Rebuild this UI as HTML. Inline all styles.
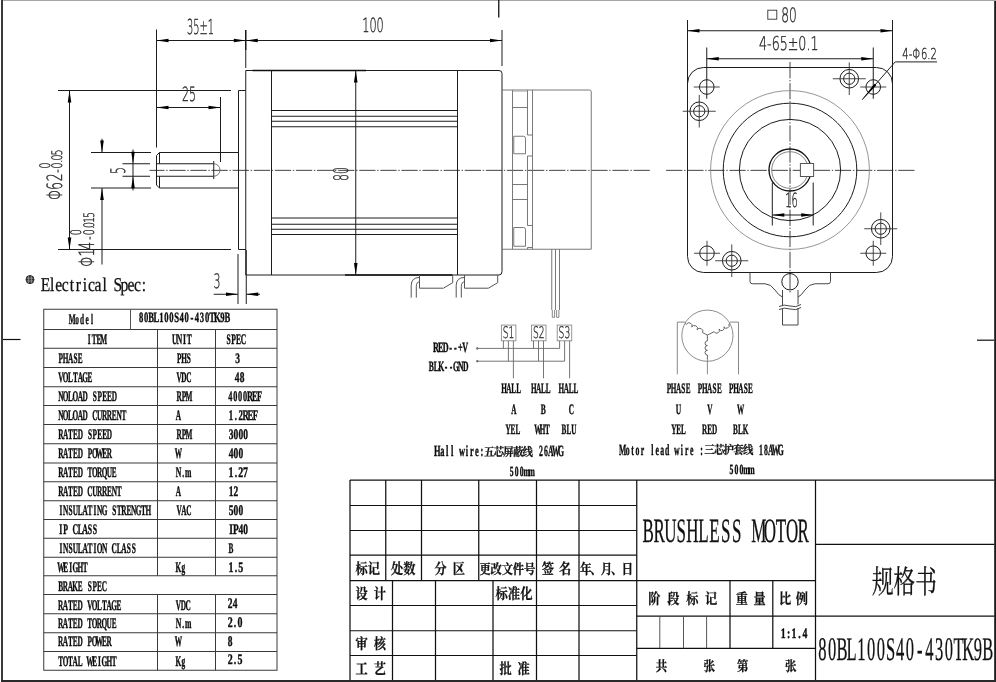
<!DOCTYPE html>
<html lang="zh"><head><meta charset="utf-8"><title>80BL100S40-430TK9B</title>
<style>
html,body{margin:0;padding:0;background:#fff;}
body{width:996px;height:682px;overflow:hidden;}
svg{display:block;filter:grayscale(1);}
text{text-rendering:geometricPrecision;}
.t{font-family:"Liberation Serif","Noto Serif CJK SC",serif;font-weight:bold;fill:#0c0c0c;stroke:#0c0c0c;stroke-width:0.4px;}
.s{font-family:"Liberation Serif","Noto Serif CJK SC",serif;fill:#111;stroke:#111;stroke-width:0.3px;}
.d{font-family:"DejaVu Sans","Liberation Sans",sans-serif;font-weight:200;fill:#2a2a2a;stroke:#2a2a2a;stroke-width:0.4px;}
.k{font-family:"Liberation Serif","Noto Serif CJK SC",serif;font-weight:bold;fill:#111;stroke:#111;stroke-width:0.22px;}
</style></head><body>
<svg width="996" height="682" viewBox="0 0 996 682">
<rect x="0" y="0" width="996" height="682" fill="#fff"/>
<rect x="3" y="0" width="993" height="1" fill="#a6a6a6"/>
<rect x="1" y="0" width="2" height="682" fill="#3a3a3a"/>
<rect x="994.2" y="1" width="1.8" height="681" fill="#1a1a1a"/>
<rect x="1" y="680" width="995" height="2" fill="#2a2a2a"/>
<line x1="498.75" y1="0" x2="498.75" y2="17.5" stroke="#111" stroke-width="1.3" />
<line x1="3" y1="339.5" x2="20.5" y2="339.5" stroke="#111" stroke-width="1.2" />
<line x1="977" y1="340.2" x2="994" y2="340.2" stroke="#111" stroke-width="1.2" />
<line x1="149.5" y1="170.35" x2="650.1" y2="170.35" stroke="#444" stroke-width="1" stroke-dasharray="16.3 1.7 1.4 1.7" stroke-dashoffset="1.3"/>
<path d="M238.5,152.5 L159.5,152.5 L156.5,155.5 L156.5,185 L159.5,188 L238.5,188" stroke="#1c1c1c" stroke-width="1" fill="none" />
<line x1="159.5" y1="152.5" x2="159.5" y2="163.75" stroke="#1c1c1c" stroke-width="1" />
<line x1="159.5" y1="176.25" x2="159.5" y2="188" stroke="#1c1c1c" stroke-width="1" />
<line x1="156.5" y1="163.75" x2="213.75" y2="163.75" stroke="#1c1c1c" stroke-width="1" />
<line x1="156.5" y1="176.25" x2="213.75" y2="176.25" stroke="#1c1c1c" stroke-width="1" />
<line x1="213.75" y1="161" x2="213.75" y2="179" stroke="#1c1c1c" stroke-width="1" />
<path d="M213.75,163.75 A6.25,6.25 0 0 1 213.75,176.25" stroke="#666" stroke-width="0.9" fill="none" />
<path d="M245.75,90.5 L238.5,90.5 L238.5,249.5 L245.75,249.5" stroke="#1c1c1c" stroke-width="1" fill="none" />
<path d="M245.75,70.5 L499,70.5 Q502,70.5 502,73.5 L502,271.5 Q502,275 499,275 L245.75,275 Z" stroke="#1c1c1c" stroke-width="1" fill="none" />
<line x1="252.5" y1="70.5" x2="366" y2="70.5" stroke="#111" stroke-width="1.6" />
<line x1="345" y1="275" x2="452.5" y2="275" stroke="#111" stroke-width="1.6" />
<line x1="271.5" y1="70.5" x2="271.5" y2="275" stroke="#1c1c1c" stroke-width="1" />
<line x1="457.5" y1="70.5" x2="457.5" y2="275" stroke="#1c1c1c" stroke-width="1" />
<line x1="271.5" y1="110.5" x2="457.5" y2="110.5" stroke="#1c1c1c" stroke-width="1" />
<line x1="271.5" y1="116.25" x2="457.5" y2="116.25" stroke="#1c1c1c" stroke-width="1" />
<line x1="271.5" y1="121.25" x2="457.5" y2="121.25" stroke="#1c1c1c" stroke-width="1" />
<line x1="271.5" y1="126.75" x2="457.5" y2="126.75" stroke="#1c1c1c" stroke-width="1" />
<line x1="271.5" y1="218" x2="457.5" y2="218" stroke="#1c1c1c" stroke-width="1" />
<line x1="271.5" y1="224.25" x2="457.5" y2="224.25" stroke="#1c1c1c" stroke-width="1" />
<line x1="271.5" y1="229.25" x2="457.5" y2="229.25" stroke="#1c1c1c" stroke-width="1" />
<line x1="271.5" y1="234.5" x2="457.5" y2="234.5" stroke="#1c1c1c" stroke-width="1" />
<path d="M502,90 L589.5,90 Q591.25,90 591.25,91.75 L591.25,249.25 L502,249.25" stroke="#6a6a6a" stroke-width="0.9" fill="none" />
<line x1="512.5" y1="90" x2="512.5" y2="249.25" stroke="#6a6a6a" stroke-width="0.9" />
<line x1="532.5" y1="90" x2="532.5" y2="249.25" stroke="#6a6a6a" stroke-width="0.9" />
<path d="M527.5,90 L527.5,135 L532.5,135" stroke="#6a6a6a" stroke-width="0.9" fill="none" />
<path d="M532.5,156 L527.5,156 L527.5,225.5 L532.5,225.5" stroke="#6a6a6a" stroke-width="0.9" fill="none" />
<path d="M527.5,249.25 L527.5,247.5 L532.5,247.5" stroke="#6a6a6a" stroke-width="0.9" fill="none" />
<line x1="512.5" y1="91.2" x2="527.5" y2="91.2" stroke="#aaa" stroke-width="0.8" />
<line x1="512.5" y1="107.5" x2="527.5" y2="107.5" stroke="#6a6a6a" stroke-width="0.9" />
<line x1="512.5" y1="184.5" x2="527.5" y2="184.5" stroke="#6a6a6a" stroke-width="0.9" />
<line x1="512.5" y1="199.5" x2="527.5" y2="199.5" stroke="#6a6a6a" stroke-width="0.9" />
<path d="M513.75,136.25 L523.5,136.25 Q525.5,136.25 525.5,138.25 L525.5,153.75 L513.75,153.75 Z" stroke="#6a6a6a" stroke-width="0.9" fill="none" />
<path d="M513.75,227.5 L523.5,227.5 Q525.5,227.5 525.5,229.5 L525.5,246.25 L513.75,246.25 Z" stroke="#6a6a6a" stroke-width="0.9" fill="none" />
<line x1="551.75" y1="249.25" x2="551.75" y2="310" stroke="#6a6a6a" stroke-width="0.9" />
<line x1="555.5" y1="249.25" x2="555.5" y2="310" stroke="#6a6a6a" stroke-width="0.9" />
<line x1="559.5" y1="249.25" x2="559.5" y2="310" stroke="#6a6a6a" stroke-width="0.9" />
<path d="M552.3,310 L552.3,317.3 L554.6,317.3 L554.6,310" stroke="#6a6a6a" stroke-width="0.8" fill="none" />
<path d="M556.6,310 L556.6,317.3 L558.9,317.3 L558.9,310" stroke="#6a6a6a" stroke-width="0.8" fill="none" />
<path d="M419.5,275 L419.5,288.2 L443.4,288.2 L452.7,282.7 L452.7,275" stroke="#555" stroke-width="1" fill="none" />
<path d="M419.5,277.4 Q411.2,277.6 411.2,285.5 L411.2,297.6" stroke="#555" stroke-width="1" fill="none" />
<path d="M419.5,281.8 Q416.3,282 416.3,286.5 L416.3,297.6" stroke="#555" stroke-width="1" fill="none" />
<path d="M464.5,275 L464.5,288.2 L488.4,288.2 L497.7,282.7 L497.7,275" stroke="#555" stroke-width="1" fill="none" />
<path d="M464.5,277.4 Q456.2,277.6 456.2,285.5 L456.2,297.6" stroke="#555" stroke-width="1" fill="none" />
<path d="M464.5,281.8 Q461.3,282 461.3,286.5 L461.3,297.6" stroke="#555" stroke-width="1" fill="none" />
<line x1="156.5" y1="29.5" x2="156.5" y2="147.5" stroke="#1c1c1c" stroke-width="1" />
<line x1="245.75" y1="30" x2="245.75" y2="68" stroke="#1c1c1c" stroke-width="1" />
<line x1="245.75" y1="30" x2="245.75" y2="50" stroke="#111" stroke-width="1.2" />
<line x1="156.5" y1="40.5" x2="502" y2="40.5" stroke="#1c1c1c" stroke-width="1" />
<polygon points="156.50,40.50 168.50,38.70 168.50,42.30" fill="#000"/>
<polygon points="245.75,40.50 233.75,42.30 233.75,38.70" fill="#000"/>
<polygon points="245.75,40.50 257.75,38.70 257.75,42.30" fill="#000"/>
<polygon points="502.00,40.50 490.00,42.30 490.00,38.70" fill="#000"/>
<line x1="502" y1="30" x2="502" y2="66" stroke="#1c1c1c" stroke-width="1" />
<text class="d" x="200.5" y="34" font-size="20.5" text-anchor="middle" textLength="27.00" lengthAdjust="spacingAndGlyphs" >35±1</text>
<text class="d" x="373" y="32" font-size="19.5" text-anchor="middle" textLength="21.50" lengthAdjust="spacingAndGlyphs" >100</text>
<line x1="220.5" y1="97" x2="220.5" y2="162" stroke="#1c1c1c" stroke-width="1" />
<line x1="156.5" y1="107.5" x2="220.5" y2="107.5" stroke="#1c1c1c" stroke-width="1" />
<polygon points="156.50,107.50 168.50,105.70 168.50,109.30" fill="#000"/>
<polygon points="220.50,107.50 208.50,109.30 208.50,105.70" fill="#000"/>
<text class="d" x="189" y="101" font-size="19.5" text-anchor="middle" textLength="14.00" lengthAdjust="spacingAndGlyphs" >25</text>
<line x1="58" y1="90.5" x2="231" y2="90.5" stroke="#1c1c1c" stroke-width="1" />
<line x1="58" y1="249.5" x2="231" y2="249.5" stroke="#1c1c1c" stroke-width="1" />
<line x1="69.5" y1="90.5" x2="69.5" y2="249.5" stroke="#1c1c1c" stroke-width="1" />
<polygon points="69.50,90.50 71.30,102.50 67.70,102.50" fill="#000"/>
<polygon points="69.50,249.50 67.70,237.50 71.30,237.50" fill="#000"/>
<text class="d" transform="translate(62.4,0) rotate(-90) scale(0.6,1)" x="-324.33 -309.83 -295.50" y="0" font-size="21" text-anchor="middle">Φ62</text>
<text class="d" transform="translate(62.4,0) rotate(-90) scale(0.66,1)" x="-259.09 -250.61 -244.39 -238.64 -230.91" y="0" font-size="14.4" text-anchor="middle">-0.05</text>
<text class="d" transform="translate(50.2,0) rotate(-90) scale(0.66,1)" x="-250.61" y="0" font-size="14.4" text-anchor="middle">0</text>
<line x1="91" y1="152.5" x2="151" y2="152.5" stroke="#1c1c1c" stroke-width="1" />
<line x1="91" y1="188" x2="151" y2="188" stroke="#1c1c1c" stroke-width="1" />
<line x1="102" y1="138.75" x2="102" y2="152.5" stroke="#1c1c1c" stroke-width="1" />
<line x1="102" y1="188" x2="102" y2="264.5" stroke="#1c1c1c" stroke-width="1" />
<polygon points="102.00,152.50 100.20,140.50 103.80,140.50" fill="#000"/>
<polygon points="102.00,188.00 103.80,200.00 100.20,200.00" fill="#000"/>
<text class="d" transform="translate(93.7,0) rotate(-90) scale(0.6,1)" x="-435.67 -420.83 -409.50" y="0" font-size="21" text-anchor="middle">Φ14</text>
<text class="d" transform="translate(93.7,0) rotate(-90) scale(0.66,1)" x="-360.61 -351.97 -345.15 -340.76 -333.33 -325.61" y="0" font-size="14.4" text-anchor="middle">-0.015</text>
<text class="d" transform="translate(81.2,0) rotate(-90) scale(0.66,1)" x="-351.97" y="0" font-size="14.4" text-anchor="middle">0</text>
<line x1="122.5" y1="163.75" x2="150" y2="163.75" stroke="#1c1c1c" stroke-width="1" />
<line x1="122.5" y1="176.25" x2="150" y2="176.25" stroke="#1c1c1c" stroke-width="1" />
<line x1="133" y1="149.5" x2="133" y2="190.5" stroke="#1c1c1c" stroke-width="1" />
<polygon points="133.00,163.75 131.20,151.75 134.80,151.75" fill="#000"/>
<polygon points="133.00,176.25 134.80,188.25 131.20,188.25" fill="#000"/>
<text class="d" x="0" y="0" font-size="20" text-anchor="start" textLength="7.00" lengthAdjust="spacingAndGlyphs" transform="translate(125,174) rotate(-90)" >5</text>
<line x1="238" y1="254" x2="238" y2="304" stroke="#1c1c1c" stroke-width="1" />
<line x1="246.25" y1="250" x2="246.25" y2="304" stroke="#1c1c1c" stroke-width="1" />
<line x1="213.75" y1="294.25" x2="238" y2="294.25" stroke="#1c1c1c" stroke-width="1" />
<line x1="246.25" y1="294.25" x2="260" y2="294.25" stroke="#1c1c1c" stroke-width="1" />
<polygon points="238.00,294.25 226.00,296.05 226.00,292.45" fill="#000"/>
<polygon points="246.25,294.25 258.25,292.45 258.25,296.05" fill="#000"/>
<text class="d" x="213.5" y="287.5" font-size="20" text-anchor="start" textLength="7.00" lengthAdjust="spacingAndGlyphs" >3</text>
<line x1="355.75" y1="70.5" x2="355.75" y2="275" stroke="#1c1c1c" stroke-width="1" />
<polygon points="355.75,70.50 357.55,82.50 353.95,82.50" fill="#000"/>
<polygon points="355.75,275.00 353.95,263.00 357.55,263.00" fill="#000"/>
<text class="d" x="0" y="0" font-size="20" text-anchor="start" textLength="14.00" lengthAdjust="spacingAndGlyphs" transform="translate(347.5,181) rotate(-90)" >80</text>
<line x1="666.1" y1="170.35" x2="916" y2="170.35" stroke="#444" stroke-width="1" stroke-dasharray="16.3 1.7 1.4 1.7"/>
<line x1="790" y1="62" x2="790" y2="292.5" stroke="#444" stroke-width="1" stroke-dasharray="16.3 1.7 1.4 1.7"/>
<rect x="687.5" y="67.5" width="205" height="205" rx="16" stroke="#1c1c1c" stroke-width="1" fill="none"/>
<circle cx="790" cy="170" r="79.4" stroke="#8a8a8a" stroke-width="0.9" fill="none"/>
<circle cx="790" cy="170" r="66.8" stroke="#1c1c1c" stroke-width="1" fill="none"/>
<circle cx="790" cy="170" r="50.6" stroke="#1c1c1c" stroke-width="1" fill="none"/>
<circle cx="790" cy="170" r="21" stroke="#111" stroke-width="1.3" fill="none"/>
<circle cx="790" cy="170" r="18.3" stroke="#777" stroke-width="0.9" fill="none"/>
<rect x="800.4" y="163.5" width="13.2" height="13" rx="0" stroke="#555" stroke-width="1" fill="#fff"/>
<circle cx="706.75" cy="87" r="7.3" stroke="#1c1c1c" stroke-width="1" fill="none"/>
<line x1="693.75" y1="87" x2="719.75" y2="87" stroke="#333" stroke-width="0.9" />
<circle cx="873.25" cy="87" r="7.3" stroke="#1c1c1c" stroke-width="1" fill="none"/>
<line x1="860.25" y1="87" x2="886.25" y2="87" stroke="#333" stroke-width="0.9" />
<circle cx="707" cy="253.25" r="7.3" stroke="#1c1c1c" stroke-width="1" fill="none"/>
<line x1="694" y1="253.25" x2="720" y2="253.25" stroke="#333" stroke-width="0.9" />
<line x1="707" y1="240.75" x2="707" y2="265.75" stroke="#333" stroke-width="0.9" />
<circle cx="873.25" cy="253.25" r="7.3" stroke="#1c1c1c" stroke-width="1" fill="none"/>
<line x1="860.25" y1="253.25" x2="886.25" y2="253.25" stroke="#333" stroke-width="0.9" />
<line x1="873.25" y1="240.75" x2="873.25" y2="265.75" stroke="#333" stroke-width="0.9" />
<circle cx="699.25" cy="111.25" r="9.3" stroke="#1c1c1c" stroke-width="1" fill="none"/>
<circle cx="699.25" cy="111.25" r="5.6" stroke="#1c1c1c" stroke-width="1" fill="none"/>
<line x1="682.75" y1="111.25" x2="715.75" y2="111.25" stroke="#333" stroke-width="0.9" />
<line x1="699.25" y1="94.95" x2="699.25" y2="127.55" stroke="#333" stroke-width="0.9" />
<circle cx="849.25" cy="78.75" r="9.3" stroke="#1c1c1c" stroke-width="1" fill="none"/>
<circle cx="849.25" cy="78.75" r="5.6" stroke="#1c1c1c" stroke-width="1" fill="none"/>
<line x1="832.75" y1="78.75" x2="865.75" y2="78.75" stroke="#333" stroke-width="0.9" />
<line x1="849.25" y1="62.45" x2="849.25" y2="95.05" stroke="#333" stroke-width="0.9" />
<circle cx="731.75" cy="260.75" r="9.3" stroke="#1c1c1c" stroke-width="1" fill="none"/>
<circle cx="731.75" cy="260.75" r="5.6" stroke="#1c1c1c" stroke-width="1" fill="none"/>
<line x1="715.25" y1="260.75" x2="748.25" y2="260.75" stroke="#333" stroke-width="0.9" />
<line x1="731.75" y1="244.45" x2="731.75" y2="277.05" stroke="#333" stroke-width="0.9" />
<circle cx="880.75" cy="228.75" r="9.3" stroke="#1c1c1c" stroke-width="1" fill="none"/>
<circle cx="880.75" cy="228.75" r="5.6" stroke="#1c1c1c" stroke-width="1" fill="none"/>
<line x1="864.25" y1="228.75" x2="897.25" y2="228.75" stroke="#333" stroke-width="0.9" />
<line x1="880.75" y1="212.45" x2="880.75" y2="245.05" stroke="#333" stroke-width="0.9" />
<path d="M750,272.5 L750,281.5 Q750,283.75 752.5,283.75 L765,283.75 Q771,284 775,290 Q779,296 782.5,297" stroke="#333" stroke-width="0.9" fill="none" />
<path d="M830.5,272.5 L830.5,281.5 Q830.5,283.75 828,283.75 L815,283.75 Q809,284 805,290 Q801,296 798,297" stroke="#333" stroke-width="0.9" fill="none" />
<circle cx="790" cy="281.75" r="8.2" stroke="#1c1c1c" stroke-width="1" fill="none"/>
<line x1="782.5" y1="290" x2="782.5" y2="305.5" stroke="#333" stroke-width="0.9" />
<line x1="798" y1="290" x2="798" y2="304.5" stroke="#333" stroke-width="0.9" />
<line x1="782.5" y1="309" x2="782.5" y2="325" stroke="#333" stroke-width="0.9" />
<line x1="798" y1="308" x2="798" y2="325" stroke="#333" stroke-width="0.9" />
<line x1="782.5" y1="325" x2="798" y2="325" stroke="#333" stroke-width="0.9" />
<path d="M779,306.5 Q784,304 790,306 T801,304.5" stroke="#333" stroke-width="0.9" fill="none" />
<path d="M779,309.5 Q784,307 790,309 T801,307.5" stroke="#333" stroke-width="0.9" fill="none" />
<line x1="687.5" y1="20" x2="687.5" y2="85" stroke="#1c1c1c" stroke-width="1" />
<line x1="892.5" y1="20" x2="892.5" y2="85" stroke="#1c1c1c" stroke-width="1" />
<line x1="687.5" y1="30.75" x2="892.5" y2="30.75" stroke="#1c1c1c" stroke-width="1" />
<polygon points="687.50,30.75 699.50,28.95 699.50,32.55" fill="#000"/>
<polygon points="892.50,30.75 880.50,32.55 880.50,28.95" fill="#000"/>
<rect x="767.8" y="10.2" width="9" height="9" rx="0" stroke="#333" stroke-width="0.9" fill="none"/>
<text class="d" x="781.3" y="22" font-size="20" text-anchor="start" textLength="15.50" lengthAdjust="spacingAndGlyphs" >80</text>
<line x1="706.75" y1="47.5" x2="706.75" y2="98.75" stroke="#1c1c1c" stroke-width="1" />
<line x1="873.25" y1="47.5" x2="873.25" y2="98.75" stroke="#1c1c1c" stroke-width="1" />
<line x1="706.75" y1="58.75" x2="873.25" y2="58.75" stroke="#1c1c1c" stroke-width="1" />
<polygon points="706.75,58.75 718.75,56.95 718.75,60.55" fill="#000"/>
<polygon points="873.25,58.75 861.25,60.55 861.25,56.95" fill="#000"/>
<text class="d" x="759" y="50" font-size="19" text-anchor="start" textLength="59.50" lengthAdjust="spacingAndGlyphs" >4-65±0.1</text>
<line x1="862.1" y1="99.8" x2="895.2" y2="61.9" stroke="#222" stroke-width="1" />
<line x1="895.2" y1="61.9" x2="937" y2="61.9" stroke="#222" stroke-width="1" />
<polygon points="862.10,99.80 874.24,83.85 876.27,85.62" fill="#000"/>
<text class="d" x="902.3" y="59.4" font-size="15" text-anchor="start" textLength="34.50" lengthAdjust="spacingAndGlyphs" >4-Φ6.2</text>
<line x1="772.3" y1="182.5" x2="772.3" y2="225.5" stroke="#1c1c1c" stroke-width="1" />
<line x1="813.2" y1="182.5" x2="813.2" y2="225.5" stroke="#1c1c1c" stroke-width="1" />
<line x1="772.3" y1="215" x2="813.2" y2="215" stroke="#1c1c1c" stroke-width="1" />
<polygon points="772.30,215.00 784.30,213.20 784.30,216.80" fill="#000"/>
<polygon points="813.20,215.00 801.20,216.80 801.20,213.20" fill="#000"/>
<text class="d" x="785.3" y="207" font-size="19.5" text-anchor="start" textLength="12.50" lengthAdjust="spacingAndGlyphs" >16</text>
<circle cx="30" cy="279.6" r="4" stroke="#222" stroke-width="1" fill="#333"/>
<line x1="26.5" y1="278.2" x2="33.5" y2="278.2" stroke="#bbb" stroke-width="0.6" />
<line x1="26.5" y1="281" x2="33.5" y2="281" stroke="#bbb" stroke-width="0.6" />
<line x1="28.6" y1="276" x2="28.6" y2="283.2" stroke="#bbb" stroke-width="0.6" />
<line x1="31.4" y1="276" x2="31.4" y2="283.2" stroke="#bbb" stroke-width="0.6" />
<text class="s" transform="scale(0.8,1)" x="56.97 65.17 73.37 81.57 89.77 97.97 106.17 114.38 122.58 130.77 138.97 147.17 155.38 163.57 171.77 179.97" y="291.2" font-size="19.5" text-anchor="middle" >Electrical Spec:</text>
<rect x="43.75" y="309.25" width="233.25" height="361" rx="0" stroke="#3a3a3a" stroke-width="1" fill="none"/>
<line x1="43.75" y1="329.5" x2="277" y2="329.5" stroke="#3a3a3a" stroke-width="1" />
<line x1="43.75" y1="348.25" x2="277" y2="348.25" stroke="#3a3a3a" stroke-width="1" />
<line x1="43.75" y1="367.5" x2="277" y2="367.5" stroke="#3a3a3a" stroke-width="1" />
<line x1="43.75" y1="386.75" x2="277" y2="386.75" stroke="#3a3a3a" stroke-width="1" />
<line x1="43.75" y1="405.5" x2="277" y2="405.5" stroke="#3a3a3a" stroke-width="1" />
<line x1="43.75" y1="424.5" x2="277" y2="424.5" stroke="#3a3a3a" stroke-width="1" />
<line x1="43.75" y1="443.75" x2="277" y2="443.75" stroke="#3a3a3a" stroke-width="1" />
<line x1="43.75" y1="463" x2="277" y2="463" stroke="#3a3a3a" stroke-width="1" />
<line x1="43.75" y1="481.75" x2="277" y2="481.75" stroke="#3a3a3a" stroke-width="1" />
<line x1="43.75" y1="500.75" x2="277" y2="500.75" stroke="#3a3a3a" stroke-width="1" />
<line x1="43.75" y1="519.5" x2="277" y2="519.5" stroke="#3a3a3a" stroke-width="1" />
<line x1="43.75" y1="538.25" x2="277" y2="538.25" stroke="#3a3a3a" stroke-width="1" />
<line x1="43.75" y1="557.25" x2="277" y2="557.25" stroke="#3a3a3a" stroke-width="1" />
<line x1="43.75" y1="575.75" x2="277" y2="575.75" stroke="#3a3a3a" stroke-width="1" />
<line x1="43.75" y1="594.5" x2="277" y2="594.5" stroke="#3a3a3a" stroke-width="1" />
<line x1="43.75" y1="613.75" x2="277" y2="613.75" stroke="#3a3a3a" stroke-width="1" />
<line x1="43.75" y1="632.75" x2="277" y2="632.75" stroke="#3a3a3a" stroke-width="1" />
<line x1="43.75" y1="651.5" x2="277" y2="651.5" stroke="#3a3a3a" stroke-width="1" />
<line x1="130.5" y1="309.25" x2="130.5" y2="329.5" stroke="#555" stroke-width="1" />
<line x1="157.5" y1="329.5" x2="157.5" y2="575.75" stroke="#3a3a3a" stroke-width="1" />
<line x1="157.5" y1="594.5" x2="157.5" y2="670.25" stroke="#3a3a3a" stroke-width="1" />
<line x1="215.5" y1="329.5" x2="215.5" y2="575.75" stroke="#3a3a3a" stroke-width="1" />
<line x1="215.5" y1="594.5" x2="215.5" y2="670.25" stroke="#3a3a3a" stroke-width="1" />
<text class="t" transform="scale(0.5,1)" x="144.35 154.25 164.15 174.05 183.95" y="323.7" font-size="14.6" text-anchor="middle" >Model</text>
<text class="t" transform="scale(0.607,1)" x="232.36 240.72 249.09 257.46 265.83 274.20 282.57 290.94 299.31 307.68 316.05 324.42 332.78 341.15 349.52 357.89 366.26 374.63" y="322" font-size="14.2" text-anchor="middle" >80BL100S40-430TK9B</text>
<text class="t" transform="scale(0.5,1)" x="178.46 188.18 197.90 207.62" y="343.7" font-size="14.6" text-anchor="middle" >ITEM</text>
<text class="t" transform="scale(0.517,1)" x="337.97 347.37 356.77 366.17" y="343.7" font-size="14.6" text-anchor="middle" >UNIT</text>
<text class="t" transform="scale(0.52,1)" x="439.42 449.04 458.65 468.27" y="343.7" font-size="14.6" text-anchor="middle" >SPEC</text>
<text class="t" transform="scale(0.5,1)" x="121.66 131.38 141.10 150.82 160.54" y="363" font-size="14.6" text-anchor="middle" >PHASE</text>
<text class="t" transform="scale(0.5,1)" x="358.26 367.98 377.70" y="363" font-size="14.6" text-anchor="middle" >PHS</text>
<text class="t" transform="scale(0.646,1)" x="367.85" y="363" font-size="14.6" text-anchor="middle" >3</text>
<text class="t" transform="scale(0.5,1)" x="121.66 131.38 141.10 150.82 160.54 170.26 179.98" y="382.3" font-size="14.6" text-anchor="middle" >VOLTAGE</text>
<text class="t" transform="scale(0.5,1)" x="358.26 367.98 377.70" y="382.3" font-size="14.6" text-anchor="middle" >VDC</text>
<text class="t" transform="scale(0.646,1)" x="367.23 374.75" y="382.3" font-size="14.6" text-anchor="middle" >48</text>
<text class="t" transform="scale(0.5,1)" x="121.66 131.38 141.10 150.82 160.54 170.26 179.98 189.70 199.42 209.14 218.86 228.58" y="401.3" font-size="14.6" text-anchor="middle" >NOLOAD SPEED</text>
<text class="t" transform="scale(0.5,1)" x="358.26 367.98 377.70" y="401.3" font-size="14.6" text-anchor="middle" >RPM</text>
<text class="t" transform="scale(0.565,1)" x="407.84 416.44 425.04 433.65 442.25 450.85 459.45" y="401.3" font-size="14.6" text-anchor="middle" >4000REF</text>
<text class="t" transform="scale(0.5,1)" x="121.66 131.38 141.10 150.82 160.54 170.26 179.98 189.70 199.42 209.14 218.86 228.58 238.30 248.02" y="420" font-size="14.6" text-anchor="middle" >NOLOAD CURRENT</text>
<text class="t" transform="scale(0.5,1)" x="356.86" y="420" font-size="14.6" text-anchor="middle" >A</text>
<text class="t" transform="scale(0.596,1)" x="387.63 395.79 403.94 412.10 420.25 428.41" y="420" font-size="14.6" text-anchor="middle" >1.2REF</text>
<text class="t" transform="scale(0.5,1)" x="121.66 131.38 141.10 150.82 160.54 170.26 179.98 189.70 199.42 209.14 218.86" y="439" font-size="14.6" text-anchor="middle" >RATED SPEED</text>
<text class="t" transform="scale(0.5,1)" x="358.26 367.98 377.70" y="439" font-size="14.6" text-anchor="middle" >RPM</text>
<text class="t" transform="scale(0.646,1)" x="357.63 365.15 372.68 380.20" y="439" font-size="14.6" text-anchor="middle" >3000</text>
<text class="t" transform="scale(0.5,1)" x="121.66 131.38 141.10 150.82 160.54 170.26 179.98 189.70 199.42 209.14 218.86" y="458.2" font-size="14.6" text-anchor="middle" >RATED POWER</text>
<text class="t" transform="scale(0.5,1)" x="356.86" y="458.2" font-size="14.6" text-anchor="middle" >W</text>
<text class="t" transform="scale(0.646,1)" x="357.63 365.15 372.68" y="458.2" font-size="14.6" text-anchor="middle" >400</text>
<text class="t" transform="scale(0.5,1)" x="121.66 131.38 141.10 150.82 160.54 170.26 179.98 189.70 199.42 209.14 218.86 228.58" y="477.3" font-size="14.6" text-anchor="middle" >RATED TORQUE</text>
<text class="t" transform="scale(0.527,1)" x="338.58 347.80 357.02" y="477.3" font-size="14.6" text-anchor="middle" >N.m</text>
<text class="t" transform="scale(0.68,1)" x="339.75 346.90 354.04 361.19" y="477.3" font-size="14.6" text-anchor="middle" >1.27</text>
<text class="t" transform="scale(0.5,1)" x="121.66 131.38 141.10 150.82 160.54 170.26 179.98 189.70 199.42 209.14 218.86 228.58 238.30" y="496.2" font-size="14.6" text-anchor="middle" >RATED CURRENT</text>
<text class="t" transform="scale(0.5,1)" x="356.86" y="496.2" font-size="14.6" text-anchor="middle" >A</text>
<text class="t" transform="scale(0.646,1)" x="357.63 365.15" y="496.2" font-size="14.6" text-anchor="middle" >12</text>
<text class="t" transform="scale(0.5,1)" x="121.66 131.38 141.10 150.82 160.54 170.26 179.98 189.70 199.42 209.14 218.86 228.58 238.30 248.02 257.74 267.46 277.18 286.90 296.62" y="515.2" font-size="14.6" text-anchor="middle" >INSULATING STRENGTH</text>
<text class="t" transform="scale(0.5,1)" x="358.26 367.98 377.70" y="515.2" font-size="14.6" text-anchor="middle" >VAC</text>
<text class="t" transform="scale(0.646,1)" x="357.63 365.15 372.68" y="515.2" font-size="14.6" text-anchor="middle" >500</text>
<text class="t" transform="scale(0.535,1)" x="113.70 122.79 131.87 140.95 150.04 159.12 168.21 177.29" y="533.8" font-size="14.6" text-anchor="middle" >IP CLASS</text>
<text class="t" transform="scale(0.646,1)" x="357.63 365.15 372.68 380.20" y="533.8" font-size="14.6" text-anchor="middle" >IP40</text>
<text class="t" transform="scale(0.507,1)" x="119.98 129.57 139.15 148.74 158.32 167.91 177.50 187.08 196.67 206.25 215.84 225.42 235.01 244.60 254.18 263.77" y="552.7" font-size="14.6" text-anchor="middle" >INSULATION CLASS</text>
<text class="t" transform="scale(0.5,1)" x="462.06" y="552.7" font-size="14.6" text-anchor="middle" >B</text>
<text class="t" transform="scale(0.5,1)" x="121.66 131.38 141.10 150.82 160.54 170.26" y="571.6" font-size="14.6" text-anchor="middle" >WEIGHT</text>
<text class="t" transform="scale(0.505,1)" x="353.33 362.95" y="571.6" font-size="14.6" text-anchor="middle" >Kg</text>
<text class="t" transform="scale(0.68,1)" x="339.75 346.90 354.04" y="571.6" font-size="14.6" text-anchor="middle" >1.5</text>
<text class="t" transform="scale(0.5,1)" x="121.26 130.98 140.70 150.42 160.14 169.86 179.58 189.30 199.02 208.74" y="590.8" font-size="14.6" text-anchor="middle" >BRAKE SPEC</text>
<text class="t" transform="scale(0.5,1)" x="121.26 130.98 140.70 150.42 160.14 169.86 179.58 189.30 199.02 208.74 218.46 228.18 237.90" y="609.6" font-size="14.6" text-anchor="middle" >RATED VOLTAGE</text>
<text class="t" transform="scale(0.5,1)" x="356.86 366.58 376.30" y="609.6" font-size="14.6" text-anchor="middle" >VDC</text>
<text class="t" transform="scale(0.646,1)" x="356.39 363.92" y="607.8" font-size="14.6" text-anchor="middle" >24</text>
<text class="t" transform="scale(0.5,1)" x="121.26 130.98 140.70 150.42 160.14 169.86 179.58 189.30 199.02 208.74 218.46 228.18" y="628.3" font-size="14.6" text-anchor="middle" >RATED TORQUE</text>
<text class="t" transform="scale(0.527,1)" x="338.58 347.80 357.02" y="628.3" font-size="14.6" text-anchor="middle" >N.m</text>
<text class="t" transform="scale(0.68,1)" x="338.57 345.72 352.87" y="626.6" font-size="14.6" text-anchor="middle" >2.0</text>
<text class="t" transform="scale(0.5,1)" x="121.26 130.98 140.70 150.42 160.14 169.86 179.58 189.30 199.02 208.74 218.46" y="645.8" font-size="14.6" text-anchor="middle" >RATED POWER</text>
<text class="t" transform="scale(0.5,1)" x="356.86" y="645.8" font-size="14.6" text-anchor="middle" >W</text>
<text class="t" transform="scale(0.646,1)" x="356.39" y="645.8" font-size="14.6" text-anchor="middle" >8</text>
<text class="t" transform="scale(0.5,1)" x="121.26 130.98 140.70 150.42 160.14 169.86 179.58 189.30 199.02 208.74 218.46 228.18" y="665.8" font-size="14.6" text-anchor="middle" >TOTAL WEIGHT</text>
<text class="t" transform="scale(0.505,1)" x="353.33 362.95" y="665.8" font-size="14.6" text-anchor="middle" >Kg</text>
<text class="t" transform="scale(0.68,1)" x="338.57 345.72 352.87" y="664" font-size="14.6" text-anchor="middle" >2.5</text>
<rect x="501.4" y="325.1" width="14.5" height="15.7" rx="0" stroke="#8a8a8a" stroke-width="0.9" fill="none"/>
<rect x="531.5" y="325.1" width="14.5" height="15.7" rx="0" stroke="#8a8a8a" stroke-width="0.9" fill="none"/>
<rect x="557.2" y="325.1" width="14.5" height="15.7" rx="0" stroke="#8a8a8a" stroke-width="0.9" fill="none"/>
<text class="d" x="502.79999999999995" y="338.2" font-size="16" text-anchor="start" textLength="11.60" lengthAdjust="spacingAndGlyphs" >S1</text>
<text class="d" x="532.9" y="338.2" font-size="16" text-anchor="start" textLength="11.60" lengthAdjust="spacingAndGlyphs" >S2</text>
<text class="d" x="558.6" y="338.2" font-size="16" text-anchor="start" textLength="11.60" lengthAdjust="spacingAndGlyphs" >S3</text>
<line x1="477.3" y1="348.4" x2="559.6" y2="348.4" stroke="#666" stroke-width="0.9" />
<line x1="477.3" y1="361.2" x2="564.6" y2="361.2" stroke="#666" stroke-width="0.9" />
<circle cx="477.3" cy="348.4" r="0.9" stroke="#666" stroke-width="0.6" fill="#666"/>
<circle cx="477.3" cy="361.2" r="0.9" stroke="#666" stroke-width="0.6" fill="#666"/>
<line x1="503.4" y1="340.8" x2="503.4" y2="348.4" stroke="#666" stroke-width="0.9" />
<line x1="508.4" y1="340.8" x2="508.4" y2="361.2" stroke="#666" stroke-width="0.9" />
<line x1="513.4" y1="340.8" x2="513.4" y2="378.3" stroke="#666" stroke-width="0.9" />
<line x1="533.5" y1="340.8" x2="533.5" y2="348.4" stroke="#666" stroke-width="0.9" />
<line x1="538.5" y1="340.8" x2="538.5" y2="361.2" stroke="#666" stroke-width="0.9" />
<line x1="543.5" y1="340.8" x2="543.5" y2="378.3" stroke="#666" stroke-width="0.9" />
<line x1="559.6" y1="340.8" x2="559.6" y2="348.4" stroke="#666" stroke-width="0.9" />
<line x1="564.6" y1="340.8" x2="564.6" y2="361.2" stroke="#666" stroke-width="0.9" />
<line x1="569.6" y1="340.8" x2="569.6" y2="378.3" stroke="#666" stroke-width="0.9" />
<text class="t" transform="scale(0.573,1)" x="760.80 769.32 777.84 786.35 794.87 803.39 811.90" y="351.8" font-size="14.2" text-anchor="middle" >RED--+V</text>
<text class="t" transform="scale(0.538,1)" x="801.60 810.74 819.89 829.03 838.18 847.32 856.47 865.61" y="370.7" font-size="14.2" text-anchor="middle" >BLK--GND</text>
<text class="t" transform="scale(0.5,1)" x="1008.05 1017.75 1027.45 1037.15" y="393" font-size="14.4" text-anchor="middle" >HALL</text>
<text class="t" transform="scale(0.5,1)" x="1067.45 1077.15 1086.85 1096.55" y="393" font-size="14.4" text-anchor="middle" >HALL</text>
<text class="t" transform="scale(0.5,1)" x="1122.85 1132.55 1142.25 1151.95" y="393" font-size="14.4" text-anchor="middle" >HALL</text>
<text class="t" transform="scale(0.5,1)" x="1027.60" y="413.9" font-size="14.4" text-anchor="middle" >A</text>
<text class="t" transform="scale(0.525,1)" x="1035.05" y="413.9" font-size="14.4" text-anchor="middle" >B</text>
<text class="t" transform="scale(0.504,1)" x="1133.93" y="413.9" font-size="14.4" text-anchor="middle" >C</text>
<text class="t" transform="scale(0.5,1)" x="1016.10 1025.90 1035.70" y="434" font-size="14.4" text-anchor="middle" >YEL</text>
<text class="t" transform="scale(0.5,1)" x="1075.45 1085.15 1094.85" y="434" font-size="14.4" text-anchor="middle" >WHT</text>
<text class="t" transform="scale(0.5,1)" x="1127.80 1137.80 1147.80" y="434" font-size="14.4" text-anchor="middle" >BLU</text>
<text class="t" transform="scale(0.541,1)" x="808.45 817.58 826.71 835.84 844.97 854.10 863.23 872.37 881.50 890.63" y="456.1" font-size="15.5" text-anchor="middle" >Hall wire:</text>
<text class="k" transform="scale(1,1.14)" x="489.22 498.86 508.50 518.14 527.78" y="399.65" font-size="10.4" text-anchor="middle">五芯屏蔽线</text>
<text class="t" transform="scale(0.5,1)" x="1081.65 1091.75 1101.85 1111.95 1122.05" y="456.1" font-size="15.5" text-anchor="middle" >26AWG</text>
<text class="t" transform="scale(0.545,1)" x="938.88 948.02 957.16 966.29 975.43" y="475.8" font-size="14" text-anchor="middle" >500mm</text>
<circle cx="707.4" cy="335.7" r="25.6" stroke="#777" stroke-width="0.85" fill="none"/>
<path d="M685.3,322.1 L677.3,322.1 L677.3,374.3" stroke="#7a7a7a" stroke-width="0.9" fill="none" />
<path d="M730,322.1 L738.5,322.1 L738.5,374.3" stroke="#7a7a7a" stroke-width="0.9" fill="none" />
<line x1="707.4" y1="358" x2="707.4" y2="374.3" stroke="#7a7a7a" stroke-width="0.9" />
<path d="M685.30,323.70 L686.40,324.27 A3.03,3.03 0 0 1 691.78,327.04 A3.03,3.03 0 0 1 697.16,329.82 A3.03,3.03 0 0 1 702.54,332.59 L707.40,335.10" stroke="#555" stroke-width="0.9" fill="none" />
<path d="M707.40,335.10 L714.18,331.68 A2.74,2.74 0 0 0 719.08,329.21 A2.74,2.74 0 0 0 723.97,326.74 A2.74,2.74 0 0 0 728.87,324.27 L730.00,323.70" stroke="#555" stroke-width="0.9" fill="none" />
<path d="M707.40,335.10 L707.40,340.95 A2.34,2.34 0 0 0 707.40,345.63 A2.34,2.34 0 0 0 707.40,350.31 A2.34,2.34 0 0 0 707.40,354.99 L707.40,358.50" stroke="#555" stroke-width="0.9" fill="none" />
<text class="t" transform="scale(0.5,1)" x="1337.65 1347.35 1357.05 1366.75 1376.45" y="392.8" font-size="14.4" text-anchor="middle" >PHASE</text>
<text class="t" transform="scale(0.5,1)" x="1400.05 1409.75 1419.45 1429.15 1438.85" y="392.8" font-size="14.4" text-anchor="middle" >PHASE</text>
<text class="t" transform="scale(0.5,1)" x="1462.25 1471.95 1481.65 1491.35 1501.05" y="392.8" font-size="14.4" text-anchor="middle" >PHASE</text>
<text class="t" transform="scale(0.522,1)" x="1299.62" y="413.5" font-size="14.4" text-anchor="middle" >U</text>
<text class="t" transform="scale(0.5,1)" x="1419.60" y="413.5" font-size="14.4" text-anchor="middle" >V</text>
<text class="t" transform="scale(0.5,1)" x="1481.00" y="413.5" font-size="14.4" text-anchor="middle" >W</text>
<text class="t" transform="scale(0.5,1)" x="1347.65 1357.35 1367.05" y="434.1" font-size="14.4" text-anchor="middle" >YEL</text>
<text class="t" transform="scale(0.5,1)" x="1409.40 1419.40 1429.40" y="434.1" font-size="14.4" text-anchor="middle" >RED</text>
<text class="t" transform="scale(0.5,1)" x="1470.85 1480.95 1491.05" y="434.1" font-size="14.4" text-anchor="middle" >BLK</text>
<text class="t" transform="scale(0.5,1)" x="1245.33 1255.19 1265.05 1274.91 1284.77 1294.63 1304.49 1314.35 1324.21 1334.07 1343.93 1353.79 1363.65 1373.51 1383.37 1393.23 1403.09" y="454.5" font-size="15.5" text-anchor="middle" >Motor lead wire :</text>
<text class="k" transform="scale(1,1.14)" x="709.44 719.12 728.80 738.48 748.16" y="398.33" font-size="10.4" text-anchor="middle">三芯护套线</text>
<text class="t" transform="scale(0.5,1)" x="1521.75 1531.65 1541.55 1551.45 1561.35" y="454.5" font-size="15.5" text-anchor="middle" >18AWG</text>
<text class="t" transform="scale(0.549,1)" x="1332.26 1341.40 1350.55 1359.69 1368.83" y="474.2" font-size="14" text-anchor="middle" >500mm</text>
<line x1="350" y1="480" x2="994.5" y2="480" stroke="#111" stroke-width="1.25" />
<line x1="350" y1="480" x2="350" y2="680" stroke="#111" stroke-width="1.25" />
<line x1="350" y1="505.5" x2="636.75" y2="505.5" stroke="#111" stroke-width="1.0" />
<line x1="350" y1="530.5" x2="636.75" y2="530.5" stroke="#111" stroke-width="1.0" />
<line x1="350" y1="555" x2="636.75" y2="555" stroke="#111" stroke-width="1.25" />
<line x1="350" y1="580.5" x2="815.5" y2="580.5" stroke="#111" stroke-width="1.25" />
<line x1="350" y1="605.5" x2="636.75" y2="605.5" stroke="#111" stroke-width="1.05" />
<line x1="350" y1="630.75" x2="636.75" y2="630.75" stroke="#111" stroke-width="1.05" />
<line x1="350" y1="655.5" x2="636.75" y2="655.5" stroke="#111" stroke-width="1.05" />
<line x1="385.75" y1="480" x2="385.75" y2="580.5" stroke="#111" stroke-width="1.25" />
<line x1="421.5" y1="480" x2="421.5" y2="580.5" stroke="#111" stroke-width="1.25" />
<line x1="478.75" y1="480" x2="478.75" y2="580.5" stroke="#111" stroke-width="1.25" />
<line x1="392.5" y1="580.5" x2="392.5" y2="680" stroke="#111" stroke-width="1.25" />
<line x1="435.5" y1="580.5" x2="435.5" y2="680" stroke="#111" stroke-width="1.25" />
<line x1="493" y1="580.5" x2="493" y2="680" stroke="#111" stroke-width="1.25" />
<line x1="536.5" y1="480" x2="536.5" y2="680" stroke="#111" stroke-width="1.25" />
<line x1="579" y1="480" x2="579" y2="680" stroke="#111" stroke-width="1.25" />
<line x1="636.75" y1="480" x2="636.75" y2="680" stroke="#111" stroke-width="1.25" />
<line x1="815.5" y1="480" x2="815.5" y2="680" stroke="#111" stroke-width="1.25" />
<line x1="636.75" y1="616" x2="815.5" y2="616" stroke="#111" stroke-width="1.25" />
<line x1="636.75" y1="648.3" x2="815.5" y2="648.3" stroke="#111" stroke-width="1.25" />
<line x1="730" y1="580.5" x2="730" y2="648.3" stroke="#111" stroke-width="1.25" />
<line x1="772.8" y1="580.5" x2="772.8" y2="648.3" stroke="#111" stroke-width="1.25" />
<line x1="659.8" y1="616" x2="659.8" y2="648.3" stroke="#444" stroke-width="0.9" />
<line x1="683.5" y1="616" x2="683.5" y2="648.3" stroke="#444" stroke-width="0.9" />
<line x1="706.6" y1="616" x2="706.6" y2="648.3" stroke="#444" stroke-width="0.9" />
<line x1="815.5" y1="544.4" x2="994.5" y2="544.4" stroke="#111" stroke-width="1.25" />
<line x1="815.5" y1="616" x2="994.5" y2="616" stroke="#111" stroke-width="1.25" />
<text class="k" transform="scale(1,1.22)" x="361.62 373.88" y="470.49" font-size="12.2" text-anchor="middle">标记</text>
<text class="k" transform="scale(1,1.22)" x="397.12 409.38" y="470.49" font-size="12.2" text-anchor="middle">处数</text>
<text class="k" transform="scale(1,1.22)" x="440.60 449.75 458.90" y="470.49" font-size="12.2" text-anchor="middle">分 区</text>
<text class="k" transform="scale(1,1.22)" x="485.15 496.25 507.35 518.45 529.55" y="470.49" font-size="11.3" text-anchor="middle">更改文件号</text>
<text class="k" transform="scale(1,1.22)" x="547.80 556.50 565.20" y="470.49" font-size="12.2" text-anchor="middle">签 名</text>
<text class="k" transform="scale(1,1.22)" x="585.70 596.10 606.50 616.90 627.30" y="470.49" font-size="11.6" text-anchor="middle">年、月、日</text>
<text class="k" transform="scale(1,1.22)" x="361.60 370.75 379.90" y="491.39" font-size="12.2" text-anchor="middle">设 计</text>
<text class="k" transform="scale(1,1.22)" x="501.67 514.00 526.33" y="491.39" font-size="12.3" text-anchor="middle">标准化</text>
<text class="k" transform="scale(1,1.22)" x="361.60 370.75 379.90" y="532.38" font-size="12.2" text-anchor="middle">审 核</text>
<text class="k" transform="scale(1,1.22)" x="361.60 370.75 379.90" y="552.87" font-size="12.2" text-anchor="middle">工 艺</text>
<text class="k" transform="scale(1,1.22)" x="505.50 514.50 523.50" y="552.87" font-size="12.2" text-anchor="middle">批 准</text>
<text class="k" transform="scale(1,1.22)" x="654.32 663.80 673.27 682.75 692.23 701.70 711.18" y="495.49" font-size="12.2" text-anchor="middle">阶 段 标 记</text>
<text class="k" transform="scale(1,1.22)" x="741.90 750.75 759.60" y="495.49" font-size="12.2" text-anchor="middle">重 量</text>
<text class="k" transform="scale(1,1.22)" x="785.10 793.50 801.90" y="495.49" font-size="12.2" text-anchor="middle">比 例</text>
<text class="k" transform="scale(1,1.22)" x="661.40" y="549.84" font-size="11.5" text-anchor="middle">共</text>
<text class="k" transform="scale(1,1.22)" x="709.30" y="549.84" font-size="11.5" text-anchor="middle">张</text>
<text class="k" transform="scale(1,1.22)" x="742.80" y="549.84" font-size="11.5" text-anchor="middle">第</text>
<text class="k" transform="scale(1,1.22)" x="790.70" y="549.84" font-size="11.5" text-anchor="middle">张</text>
<text class="t" transform="scale(0.68,1)" x="1151.65 1159.67 1167.68 1175.70 1183.71" y="637.8" font-size="14.4" text-anchor="middle" >1:1.4</text>
<text class="s" transform="scale(0.5,1)" x="1296.27 1318.41 1340.55 1362.69 1384.83 1406.97 1429.11 1451.25 1473.39 1495.53 1517.67 1539.81 1561.95 1584.09 1606.23" y="542" font-size="34" text-anchor="middle" >BRUSHLESS MOTOR</text>
<text class="k" style="font-weight:normal" transform="translate(872,592.8) scale(1,1.46)" x="0" y="0" font-size="21.8" textLength="64.8" lengthAdjust="spacingAndGlyphs">规格书</text>
<text class="s" transform="scale(0.5,1)" x="1644.92 1664.36 1683.80 1703.24 1722.68 1742.12 1761.56 1781.00 1800.44 1819.88 1839.32 1858.76 1878.20 1897.64 1917.08 1936.52 1955.96 1975.40" y="659.6" font-size="33" text-anchor="middle" >80BL100S40-430TK9B</text>
</svg>
</body></html>
